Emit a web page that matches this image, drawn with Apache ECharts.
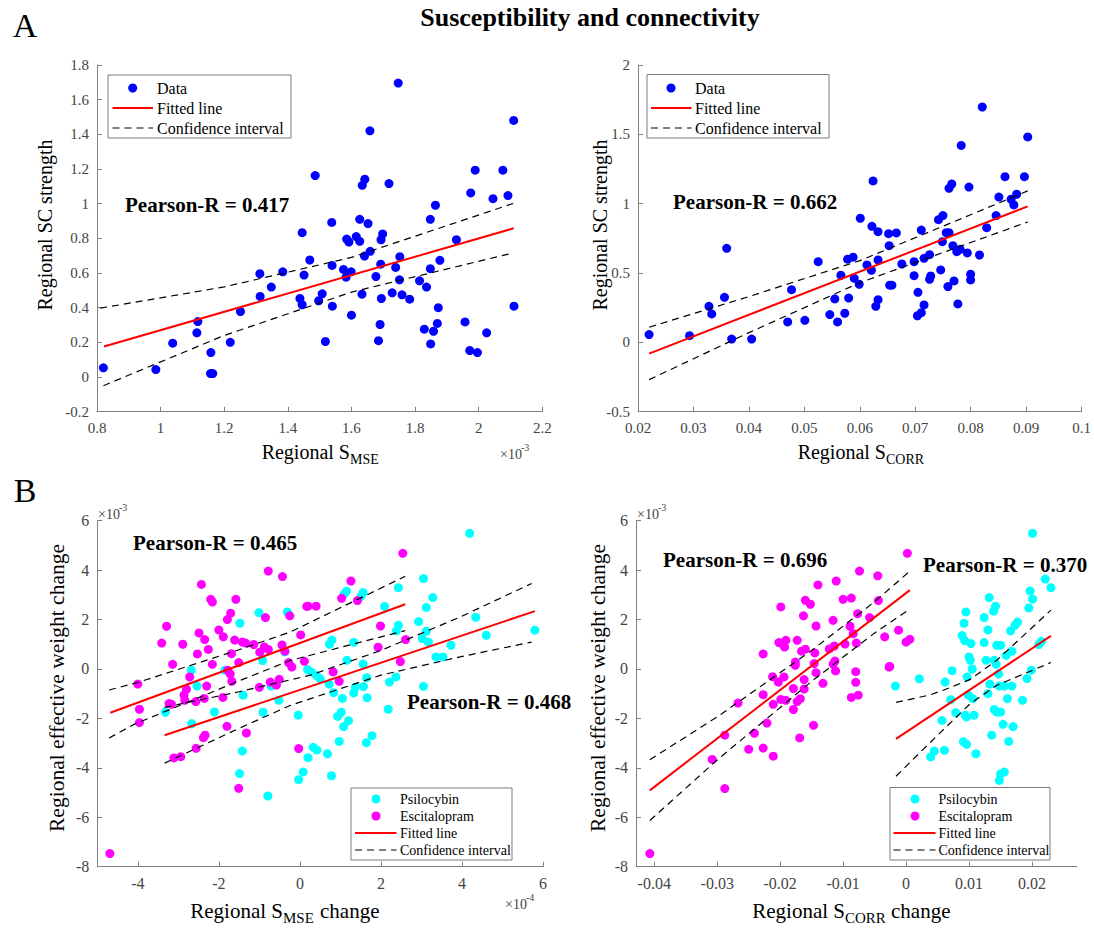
<!DOCTYPE html>
<html><head><meta charset="utf-8">
<script src="https://cdn.jsdelivr.net/npm/echarts@6/dist/echarts.min.js"></script>
<style>html,body{margin:0;padding:0;background:#fff}#c{width:1094px;height:932px}</style>
</head><body><div id="c"></div>
<script>
// ---------- DATA ----------
// Panel A-left: Regional S_MSE (x1e-3) vs Regional SC strength
const aMseData = [[0.82,0.053],[0.985,0.043],[1.038,0.195],[1.117,0.32],[1.114,0.255],[1.158,0.141],[1.157,0.02],[1.164,0.02],[1.219,0.20],[1.251,0.378],[1.312,0.596],[1.313,0.465],[1.348,0.519],[1.384,0.607],[1.438,0.453],[1.445,0.417],[1.445,0.833],[1.451,0.588],[1.469,0.675],[1.486,1.162],[1.497,0.44],
[1.747,1.696],[2.110,1.48],[1.658,1.42],[1.989,1.193],[2.076,1.193],[1.642,1.141],[1.634,1.106],[1.718,1.116],[1.975,1.062],[2.045,1.029],[2.092,1.047],[1.864,0.991],[1.848,0.91],[1.538,0.892],[1.626,0.91],[1.652,0.885],[1.585,0.796],[1.592,0.779],[1.615,0.81],[1.626,0.783],[1.698,0.825],[1.693,0.792],[1.930,0.792],[1.659,0.725],[1.641,0.698],[1.752,0.694],[1.539,0.644],[1.692,0.651],[1.878,0.673],[1.575,0.621],[1.599,0.607],[1.583,0.576],[1.739,0.632],[1.848,0.625],[1.677,0.58],[1.751,0.561],[1.814,0.555],[1.836,0.519],[1.508,0.48],[1.633,0.478],[1.728,0.486],[1.759,0.474],[1.694,0.453],[1.783,0.449],[1.540,0.409],[1.873,0.40],[2.111,0.409],[1.600,0.357],[1.690,0.303],[1.957,0.318],[1.829,0.276],[1.858,0.264],[1.870,0.309],[2.025,0.255],[1.518,0.205],[1.685,0.21],[1.849,0.191],[1.972,0.153],[1.996,0.141]];
const aMseFit = [[0.822,0.176],[2.11,0.858]];
const aMseCiUp = [[0.81,0.397],[1.2,0.52],[1.6,0.69],[2.11,1.002]];
const aMseCiLo = [[0.82,-0.05],[1.2,0.24],[1.6,0.49],[2.10,0.712]];

// Panel A-right: Regional S_CORR vs Regional SC strength
const aCorrData = [[0.0220,0.056],[0.0293,0.048],[0.0328,0.26],[0.0333,0.205],[0.0356,0.325],[0.0360,0.678],[0.0369,0.024],[0.0405,0.024],[0.0470,0.147],[0.0477,0.38],[0.0501,0.159],[0.0525,0.582],[0.0546,0.20],[0.0555,0.313],[0.0560,0.147],[0.0573,0.21],[0.0566,0.484],[0.0578,0.60],[0.0580,0.32],
[0.0821,1.697],[0.0903,1.481],[0.0783,1.42],[0.0624,1.164],[0.0862,1.195],[0.0897,1.195],[0.0766,1.142],[0.0761,1.111],[0.0797,1.12],[0.0851,1.048],[0.0883,1.068],[0.0873,1.032],[0.0878,0.991],[0.0846,0.914],[0.0829,0.827],[0.0601,0.895],[0.0622,0.837],[0.0633,0.798],[0.0652,0.784],[0.0666,0.789],[0.0711,0.81],[0.0742,0.885],[0.0750,0.914],[0.0756,0.791],[0.0761,0.791],[0.0749,0.726],[0.0653,0.697],[0.0768,0.697],[0.0775,0.654],[0.0781,0.671],[0.0794,0.645],[0.0816,0.63],[0.0588,0.614],[0.0633,0.594],[0.0676,0.565],[0.0698,0.582],[0.0716,0.606],[0.0726,0.632],[0.0613,0.558],[0.0621,0.52],[0.0590,0.462],[0.0599,0.419],[0.0698,0.481],[0.0726,0.455],[0.0728,0.479],[0.0746,0.522],[0.0770,0.443],[0.0800,0.491],[0.0800,0.45],[0.0654,0.412],[0.0658,0.412],[0.0759,0.402],[0.0705,0.361],[0.0633,0.308],[0.0629,0.26],[0.0777,0.277],[0.0716,0.27],[0.0711,0.214],[0.0704,0.192]];
const aCorrFit = [[0.022,-0.081],[0.0903,0.981]];
const aCorrCiUp = [[0.022,0.109],[0.04,0.33],[0.06,0.589],[0.08,0.92],[0.0903,1.092]];
const aCorrCiLo = [[0.022,-0.269],[0.04,0.07],[0.06,0.43],[0.08,0.72],[0.0903,0.868]];

// Panel B-left: Regional S_MSE change (x1e-4) vs effective weight change (x1e-3)
const bMsePsi = [[-3.32,-1.75],[-2.68,-0.05],[-2.54,-0.69],[-2.67,-2.21],[-2.11,-1.74],[-1.85,-0.05],[-1.48,1.85],[-1.40,-1.06],[-1.42,-3.32],[-1.49,-4.23],[-1.01,2.28],[-0.92,0.34],[-0.91,-1.75],[-0.79,-5.14],[-0.71,-0.69],[-0.52,-1.27],[-0.37,0.69],[-0.31,2.31],[-0.04,-1.87],[-0.03,-4.48],[0.08,-4.17],[0.19,-0.02],
[4.19,5.49],[3.05,3.66],[2.43,3.29],[3.28,2.89],[1.15,3.15],[1.09,3.02],[1.56,3.09],[1.51,2.94],[2.09,2.53],[3.12,2.49],[4.34,2.09],[2.93,1.92],[2.43,1.77],[2.38,1.54],[3.12,1.53],[5.80,1.57],[4.60,1.36],[3.02,1.23],[3.17,1.09],[3.73,0.96],[1.33,1.08],[0.73,1.0],[0.79,1.17],[3.36,0.49],[3.53,0.49],[1.56,0.20],[1.16,0.35],[0.28,-0.12],[0.41,-0.26],[0.50,-0.40],[0.72,-0.61],[0.83,-0.96],[1.05,-1.19],[1.33,-0.97],[1.37,-0.73],[1.57,-0.71],[1.65,-0.35],[1.66,-1.16],[2.21,-0.53],[2.37,-0.32],[3.05,-0.70],[2.18,-1.63],[0.93,-1.92],[1.02,-1.75],[1.08,-2.33],[1.20,-2.09],[1.64,-2.98],[1.78,-2.70],[0.97,-2.93],[0.33,-3.17],[0.42,-3.28],[0.68,-3.43],[0.20,-3.59],[0.78,-4.32]];
const bMseEsc = [[-4.69,-7.47],[-4.0,-0.61],[-3.96,-1.63],[-3.96,-2.17],[-3.41,1.05],[-3.29,1.73],[-3.14,0.19],[-3.23,-1.40],[-3.17,-1.43],[-3.11,-3.60],[-2.94,-3.55],[-2.89,1.0],[-2.86,-1.05],[-2.80,-0.82],[-2.84,-1.27],[-2.72,-0.32],[-2.57,-1.32],[-2.53,0.61],[-2.49,1.46],[-2.43,3.42],[-2.35,1.19],[-2.26,0.79],[-2.30,-0.69],[-2.36,-1.19],[-2.38,-2.78],[-2.34,-2.68],[-2.56,-3.21],[-2.20,2.82],[-2.16,2.71],[-2.16,0.19],[-2.0,1.58],[-1.89,1.30],[-1.90,-1.15],[-1.80,-2.32],[-1.79,2.0],[-1.71,2.26],[-1.78,-0.05],[-1.72,-0.2],[-1.68,-0.5],[-1.69,0.62],[-1.58,2.82],[-1.61,1.17],[-1.51,0.26],[-1.51,-4.83],[-1.42,1.09],[-1.34,1.05],[-1.32,-2.59],[-1.14,0.99],[-0.99,0.68],[-1.0,-0.74],[-0.88,0.89],[-0.85,2.08],[-0.78,3.96],[-0.78,0.79],[-0.73,-0.53],[-0.58,-0.65],[-0.51,-0.42],[-0.43,3.74],[-0.44,0.97],[-0.37,0.72],[-0.25,2.15],[-0.28,0.26],[-0.20,0.08],[-0.03,-3.22],[0.02,1.38],[0.17,2.53],[0.11,0.31],[2.54,4.68],[1.26,3.56],[1.03,2.86],[1.42,2.77],[0.20,2.54],[0.40,2.54],[1.99,1.74],[2.61,1.19],[1.93,0.88],[2.48,0.30],[0.82,-0.12],[0.97,-0.50]];
const bMseEscFit = [[-4.68,-1.77],[2.60,2.62]];
const bMseEscCiUp = [[-4.71,-0.85],[-4.01,-0.55],[-1.5,0.78],[-0.23,1.50],[2.6,3.75]];
const bMseEscCiLo = [[-4.71,-2.79],[-4.09,-2.24],[-1.5,-0.48],[-0.23,0.35],[2.6,1.55]];
const bMsePsiFit = [[-3.34,-2.68],[5.80,2.34]];
const bMsePsiCiUp = [[-3.34,-1.55],[-1.5,-0.92],[0.26,-0.25],[2.0,0.75],[3.95,2.1],[5.72,3.46]];
const bMsePsiCiLo = [[-3.34,-3.81],[-1.5,-2.4],[-0.23,-1.47],[2.0,-0.25],[3.95,0.49],[5.72,1.09]];

// Panel B-right: Regional S_CORR change vs effective weight change (x1e-3)
const bCorrPsi = [[0.0201,5.49],[0.0221,3.64],[0.0230,3.29],[0.0132,2.89],[0.0197,3.16],[0.0201,2.83],[0.0142,2.54],[0.0139,2.34],[0.0195,2.47],[0.0095,2.31],[0.0124,2.08],[0.0177,1.90],[0.0173,1.77],[0.0092,1.85],[0.0130,1.58],[0.0089,1.35],[0.0093,1.15],[0.0103,1.03],[0.0124,1.07],[0.0144,0.96],[0.0150,0.96],[0.0166,1.54],[0.0211,0.99],[0.0215,1.12],[0.0168,0.72],[0.0159,0.55],[0.0100,0.49],[0.0102,0.35],[0.0127,0.35],[0.0140,0.35],[0.0143,0.19],[0.0105,0.0],[0.0073,-0.07],[0.0097,-0.32],[0.0062,-0.53],[0.0021,-0.40],[-0.0017,-0.69],[0.0147,-0.20],[0.0133,-0.61],[0.0148,-0.69],[0.0156,-0.69],[0.0168,-0.69],[0.0192,-0.39],[0.0199,-0.05],[0.0130,-1.0],[0.0161,-1.20],[0.0185,-1.27],[0.0099,-1.06],[0.0106,-1.20],[0.0094,-1.87],[0.0096,-1.94],[0.0108,-1.87],[0.0071,-1.24],[0.0079,-1.77],[0.0057,-2.08],[0.0140,-1.64],[0.0144,-1.74],[0.0150,-1.74],[0.0154,-2.24],[0.0170,-2.33],[0.0136,-2.68],[0.0163,-2.93],[0.0091,-2.94],[0.0096,-3.05],[0.0111,-3.43],[0.0045,-3.32],[0.0039,-3.56],[0.0061,-3.29],[0.0148,-4.51],[0.0150,-4.25],[0.0156,-4.17]];
const bCorrEsc = [[-0.0407,-7.47],[-0.0308,-3.66],[-0.0288,-2.68],[-0.0288,-4.84],[-0.0267,-1.38],[-0.0250,-3.25],[-0.0241,-2.60],[-0.0227,-1.04],[-0.0227,0.61],[-0.0227,-3.20],[-0.0221,-2.19],[-0.0212,-0.31],[-0.0211,-1.43],[-0.0211,-3.53],[-0.0203,-0.53],[-0.0202,1.07],[-0.0196,1.01],[-0.0199,2.51],[-0.0199,-1.23],[-0.0194,-0.32],[-0.0193,0.89],[-0.0191,1.16],[-0.0191,-1.27],[-0.0179,-0.79],[-0.0179,-1.64],[-0.0176,0.28],[-0.0176,0.15],[-0.0173,1.16],[-0.0173,-1.32],[-0.0169,-2.79],[-0.0168,-1.20],[-0.0166,0.72],[-0.0163,2.15],[-0.0162,-0.81],[-0.0162,-0.43],[-0.0160,2.78],[-0.0160,0.80],[-0.0152,2.62],[-0.0147,-2.28],[-0.0145,0.65],[-0.0146,0.22],[-0.0143,-0.15],[-0.0143,1.74],[-0.0140,3.40],[-0.0132,-0.58],
[-0.0074,3.96],[-0.0045,3.77],[-0.0111,3.56],[-0.0100,2.82],[-0.0087,2.87],[-0.0116,1.97],[-0.0077,2.24],[-0.0058,2.08],[-0.0089,1.73],[-0.0084,1.43],[-0.0034,1.30],[-0.0122,0.81],[-0.0114,0.93],[-0.0097,1.01],[-0.0079,1.05],[-0.0113,0.32],[-0.0116,0.20],[-0.0027,0.08],[-0.0112,-0.08],[-0.0080,-0.11],[-0.0080,-0.54],[-0.0087,-1.15],[-0.0076,-1.06],[0.0002,4.68],[-0.0044,2.77],[-0.0012,1.57],[0.0006,1.20],[0.0000,1.09],[-0.0026,0.10]];
const bCorrEscFit = [[-0.0407,-4.91],[0.0006,3.19]];
const bCorrEscCiUp = [[-0.0407,-3.67],[-0.03,-1.94],[-0.015,0.75],[-0.005,2.72],[0.0006,3.96]];
const bCorrEscCiLo = [[-0.0407,-6.13],[-0.03,-3.68],[-0.015,-0.5],[-0.005,1.46],[0.0006,2.42]];
const bCorrPsiFit = [[-0.0016,-2.83],[0.0230,1.34]];
const bCorrPsiCiUp = [[-0.0016,-1.35],[0.0038,-1.05],[0.0059,-0.86],[0.0102,-0.42],[0.0144,0.35],[0.0230,2.38]];
const bCorrPsiCiLo = [[-0.0016,-4.34],[0.0038,-2.98],[0.0102,-1.40],[0.0144,-0.66],[0.0230,0.26]];

// tick labels
const bMseXTicks = [-4,-2,0,2,4,6];
const bCorrXTicks = [-0.04,-0.03,-0.02,-0.01,0,0.01,0.02];

const pearsonTexts = ['Pearson-R = 0.417','Pearson-R = 0.662','Pearson-R = 0.465','Pearson-R = 0.468','Pearson-R = 0.696','Pearson-R = 0.370'];

// ---------- CHART ----------
const SERIF = '"Liberation Serif","Times New Roman",serif';
const AXC = '#808080', LBC = '#444';
const chart = echarts.init(document.getElementById('c'), null, {renderer:'svg'});

const grids = [
  {left:97, top:65, width:445.3, height:346.7},
  {left:638, top:65, width:443.5, height:346.7},
  {left:97.3, top:520.7, width:445.7, height:346},
  {left:636, top:520.7, width:440.7, height:346}
].map(g => Object.assign({outerBoundsMode:'none', containLabel:false}, g));

function xAxis(gi, min, max, interval, custom, fs) {
  const a = {type:'value', gridIndex:gi, min, max, splitLine:{show:false},
    axisLine:{onZero:false, lineStyle:{color:AXC, width:1}},
    axisTick:{inside:true, length:5, lineStyle:{color:AXC}},
    axisLabel:{color:LBC, fontFamily:SERIF, fontSize:fs, margin:9, hideOverlap:false, showMinLabel:true, showMaxLabel:true}};
  if (custom) { a.axisLabel.customValues = custom; a.axisTick.customValues = custom; }
  else a.interval = interval;
  return a;
}
function yAxis(gi, min, max, interval, fs) {
  return {type:'value', gridIndex:gi, min, max, interval, splitLine:{show:false},
    axisLine:{show:true, onZero:false, lineStyle:{color:AXC, width:1}},
    axisTick:{inside:true, length:5, lineStyle:{color:AXC}},
    axisLabel:{color:LBC, fontFamily:SERIF, fontSize:fs, margin:8, showMinLabel:true, showMaxLabel:true}};
}

function scatter(idx, data, color) {
  return {type:'scatter', xAxisIndex:idx, yAxisIndex:idx, data, symbolSize:9, z:2,
    itemStyle:{color, opacity:1}, emphasis:{disabled:true}, silent:true};
}
function fitLine(idx, data) {
  return {type:'line', xAxisIndex:idx, yAxisIndex:idx, data, showSymbol:false, symbol:'none', z:4,
    lineStyle:{color:'#ff0000', width:2}, silent:true};
}
function ciLine(idx, data) {
  return {type:'line', xAxisIndex:idx, yAxisIndex:idx, data, showSymbol:false, symbol:'none', z:5,
    smooth:false, lineStyle:{color:'#000', width:1.2, type:[7,5]}, silent:true};
}

const series = [
  scatter(0, aMseData, '#0000ff'), fitLine(0, aMseFit), ciLine(0, aMseCiUp), ciLine(0, aMseCiLo),
  scatter(1, aCorrData, '#0000ff'), fitLine(1, aCorrFit), ciLine(1, aCorrCiUp), ciLine(1, aCorrCiLo),
  scatter(2, bMsePsi, '#00ffff'), scatter(2, bMseEsc, '#ff00ff'),
  fitLine(2, bMseEscFit), ciLine(2, bMseEscCiUp), ciLine(2, bMseEscCiLo),
  fitLine(2, bMsePsiFit), ciLine(2, bMsePsiCiUp), ciLine(2, bMsePsiCiLo),
  scatter(3, bCorrPsi, '#00ffff'), scatter(3, bCorrEsc, '#ff00ff'),
  fitLine(3, bCorrEscFit), ciLine(3, bCorrEscCiUp), ciLine(3, bCorrEscCiLo),
  fitLine(3, bCorrPsiFit), ciLine(3, bCorrPsiCiUp), ciLine(3, bCorrPsiCiLo)
];

// ---------- TEXT / LEGENDS (graphic) ----------
const G = [];
function txt(x, y, text, font, opts) {
  G.push(Object.assign({type:'text', x, y, silent:true, z:10,
    style:Object.assign({text, font, fill:'#000', align:'left', verticalAlign:'middle'}, (opts && opts.style) || {})},
    opts && opts.rot !== undefined ? {rotation: opts.rot} : {}));
}
txt(590, 17, 'Susceptibility and connectivity', 'bold 26px ' + SERIF, {style:{align:'center'}});
txt(25, 25, 'A', '34px ' + SERIF, {style:{align:'center'}});
txt(25, 490, 'B', '34px ' + SERIF, {style:{align:'center'}});

// axis names with subscripts
txt(350, 452, 'Regional S', '20px ' + SERIF, {style:{align:'right'}});
txt(350, 459, 'MSE', '14px ' + SERIF);
txt(886, 452, 'Regional S', '20px ' + SERIF, {style:{align:'right'}});
txt(886, 459, 'CORR', '14px ' + SERIF);
txt(283, 911, 'Regional S', '21px ' + SERIF, {style:{align:'right'}});
txt(283, 918, 'MSE', '15px ' + SERIF);
txt(320, 911, 'change', '21px ' + SERIF);
txt(845, 911, 'Regional S', '21px ' + SERIF, {style:{align:'right'}});
txt(845, 918, 'CORR', '15px ' + SERIF);
txt(891, 911, 'change', '21px ' + SERIF);
// y names
txt(45, 225, 'Regional SC strength', '20px ' + SERIF, {rot:Math.PI/2, style:{align:'center'}});
txt(600, 225, 'Regional SC strength', '20px ' + SERIF, {rot:Math.PI/2, style:{align:'center'}});
txt(57, 688, 'Regional effective weight change', '21.5px ' + SERIF, {rot:Math.PI/2, style:{align:'center'}});
txt(598, 688, 'Regional effective weight change', '21.5px ' + SERIF, {rot:Math.PI/2, style:{align:'center'}});
// exponent labels
function expo(x, y, e) {
  txt(x, y, '\u00d710', '14px ' + SERIF, {style:{fill:LBC}});
  txt(x + 21, y - 7, e, '10px ' + SERIF, {style:{fill:LBC}});
}
expo(500, 454, '-3');
expo(98, 514, '-3');
expo(637, 514, '-3');
expo(505, 904, '-4');

// Pearson labels
const PF = 'bold 21px ' + SERIF;
txt(125, 205, pearsonTexts[0], PF);
txt(673, 202, pearsonTexts[1], PF);
txt(133, 543, pearsonTexts[2], PF);
txt(407, 702, pearsonTexts[3], PF);
txt(663, 560, pearsonTexts[4], PF);
txt(923, 565, pearsonTexts[5], PF);

// legends
function legend(box, rows, mx, lx1, lx2, tx, fs) {
  G.push({type:'rect', shape:{x:box[0], y:box[1], width:box[2], height:box[3]}, silent:true, z:8,
    style:{fill:'#fff', stroke:'#7a7a7a', lineWidth:1}});
  rows.forEach(r => {
    if (r.kind === 'dot') G.push({type:'circle', shape:{cx:mx, cy:r.y, r:4.5}, silent:true, z:9, style:{fill:r.color}});
    else G.push({type:'line', shape:{x1:lx1, y1:r.y, x2:lx2, y2:r.y}, silent:true, z:9,
      style:{stroke:r.color, lineWidth:r.kind==='line'?2:1.2, lineDash:r.kind==='dash'?[7,5]:null}});
    txt(tx, r.y, r.text, fs + 'px ' + SERIF);
  });
}
legend([108,75,183,63], [{kind:'dot',color:'#0000ff',text:'Data',y:88},{kind:'line',color:'#ff0000',text:'Fitted line',y:108},{kind:'dash',color:'#000',text:'Confidence interval',y:128}], 132.7, 112.5, 153, 157, 16);
legend([647,74.5,182,63.5], [{kind:'dot',color:'#0000ff',text:'Data',y:88},{kind:'line',color:'#ff0000',text:'Fitted line',y:108},{kind:'dash',color:'#000',text:'Confidence interval',y:128}], 671, 651, 691.5, 695, 16);
legend([351,788,161,72], [{kind:'dot',color:'#00ffff',text:'Psilocybin',y:799},{kind:'dot',color:'#ff00ff',text:'Escitalopram',y:816},{kind:'line',color:'#ff0000',text:'Fitted line',y:833},{kind:'dash',color:'#000',text:'Confidence interval',y:850}], 376, 355, 396.5, 400, 14);
legend([890,787.5,160,72.5], [{kind:'dot',color:'#00ffff',text:'Psilocybin',y:799},{kind:'dot',color:'#ff00ff',text:'Escitalopram',y:816},{kind:'line',color:'#ff0000',text:'Fitted line',y:833},{kind:'dash',color:'#000',text:'Confidence interval',y:850}], 915, 893.5, 935.5, 938.5, 14);

chart.setOption({
  animation:false,
  backgroundColor:'#fff',
  grid:grids,
  xAxis:[xAxis(0,0.8,2.2,0.2,null,15), xAxis(1,0.02,0.1,0.01,null,15), xAxis(2,-5,6,null,bMseXTicks,16), xAxis(3,-0.0429,0.0271,null,bCorrXTicks,16)],
  yAxis:[yAxis(0,-0.2,1.8,0.2,15), yAxis(1,-0.5,2,0.5,15), yAxis(2,-8,6,2,16), yAxis(3,-8,6,2,16)],
  series,
  graphic:G
});
</script></body></html>
